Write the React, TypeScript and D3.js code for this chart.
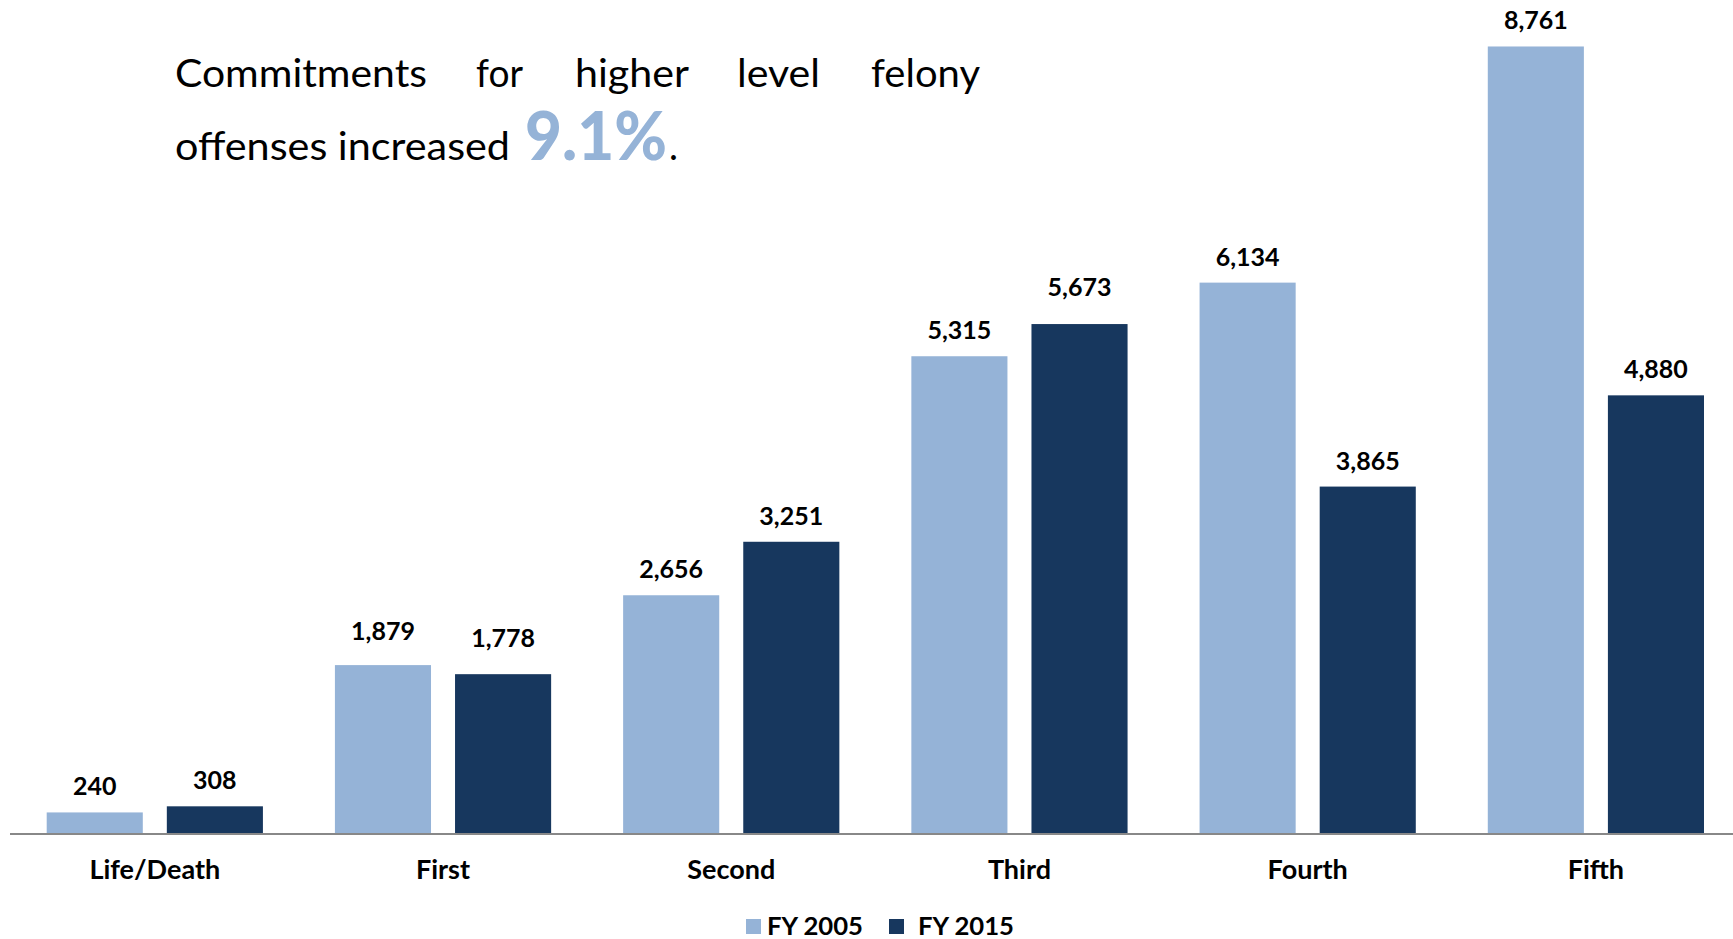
import React from 'react';
import * as d3 from 'd3';

// ── Data ─────────────────────────────────────────────────────────────
const categories = ['Life/Death', 'First', 'Second', 'Third', 'Fourth', 'Fifth'];
const seriesNames = ['FY 2005', 'FY 2015'];
const fy2005 = [240, 1879, 2656, 5315, 6134, 8761];
const fy2015 = [308, 1778, 3251, 5673, 3865, 4880];
const seriesColors = ['#95B3D7', '#17375E'];

// a few data labels were nudged upward in the original (px)
const liftFY2005 = [0, 8, 0, 0, 0, 0];
const liftFY2015 = [0, 10, 0, 11, 0, 0];

const W = 1733;
const H = 939;
const FONT = 'Lato, "Open Sans", sans-serif';

// title words laid out as justified text (start x, width)
const titleLine1 = [
  { w: 'Commitments', x: 175, len: 252 },
  { w: 'for', x: 476, len: 47 },
  { w: 'higher', x: 575, len: 114 },
  { w: 'level', x: 737, len: 83 },
  { w: 'felony', x: 871, len: 109 },
];

const App = () => {
  const x0 = d3.scaleBand<string>().domain(categories).range([10.7, 1740]).paddingInner(0).paddingOuter(0);
  const x1 = d3
    .scaleBand<string>()
    .domain(seriesNames)
    .range([36, x0.bandwidth() - 36])
    .paddingInner(0.2)
    .paddingOuter(0);
  const y = d3.scaleLinear().domain([0, 9000]).range([834, 25]);

  const rows = categories.map((c, i) => ({
    c,
    vals: [fy2005[i], fy2015[i]],
    lift: [liftFY2005[i], liftFY2015[i]],
  }));
  const fmt = d3.format(',');

  return (
    <svg
      width={W}
      height={H}
      style={{ position: 'absolute', left: 0, top: 0, background: '#fff' }}
      fontFamily={FONT}
    >
      {/* bars */}
      {rows.map((r) => (
        <g key={r.c} transform={`translate(${x0(r.c)},0)`}>
          {r.vals.map((v, j) => (
            <g key={j}>
              <rect
                x={x1(seriesNames[j])}
                y={y(v)}
                width={x1.bandwidth()}
                height={y(0) - y(v)}
                fill={seriesColors[j]}
              />
              <text
                x={(x1(seriesNames[j]) as number) + x1.bandwidth() / 2}
                y={y(v) - 17 - r.lift[j]}
                textAnchor="middle"
                fontSize={25}
                fontWeight={700}
                fill="#000"
              >
                {fmt(v)}
              </text>
            </g>
          ))}
          <text
            x={x0.bandwidth() / 2}
            y={879}
            textAnchor="middle"
            fontSize={27}
            fontWeight={700}
            fill="#000"
          >
            {r.c}
          </text>
        </g>
      ))}

      {/* axis line */}
      <line x1={10} x2={W} y1={y(0)} y2={y(0)} stroke="#888" strokeWidth={2} />

      {/* title */}
      <g fontSize={38} fill="#000">
        {titleLine1.map((t) => (
          <text key={t.w} x={t.x} y={87} textLength={t.len} lengthAdjust="spacingAndGlyphs">
            {t.w}
          </text>
        ))}
        <text x={175} y={160} textLength={335} lengthAdjust="spacingAndGlyphs">
          offenses increased
        </text>
        <text
          x={525}
          y={160}
          fontSize={66}
          fontWeight={900}
          fill="#95B3D7"
          textLength={142}
          lengthAdjust="spacingAndGlyphs"
        >
          9.1%
        </text>
        <text x={669} y={160}>.</text>
      </g>

      {/* legend */}
      <g fontSize={25} fontWeight={700} fill="#000">
        {seriesNames.map((s, i) => {
          const sx = [746, 889][i];
          const tx = [767, 918][i];
          return (
            <g key={s}>
              <rect x={sx} y={919} width={15} height={15} fill={seriesColors[i]} />
              <text x={tx} y={935} textLength={96} lengthAdjust="spacingAndGlyphs">
                {s}
              </text>
            </g>
          );
        })}
      </g>
    </svg>
  );
};

export default App;
